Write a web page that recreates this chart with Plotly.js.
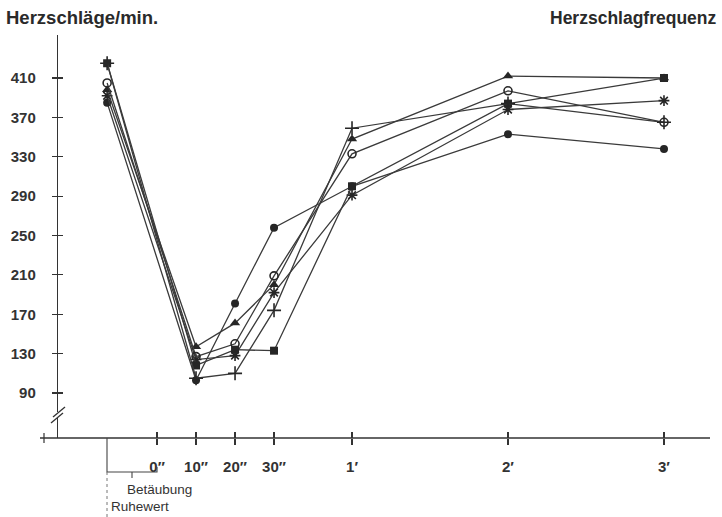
<!DOCTYPE html>
<html>
<head>
<meta charset="utf-8">
<script src="https://cdn.plot.ly/plotly-3.0.1.min.js"></script>
<style>html,body{margin:0;padding:0;background:#fff;}#chart{width:722px;height:517px;}</style>
</head>
<body>
<div id="chart"></div>
<script>
// x positions of the time points (0″ = 0, 10″ = 1 unit, 1′ = 5, 2′ = 9, 3′ = 13; Ruhewert before 0″)
const timeX = [-1.28, 1, 2, 3, 5, 9, 13];
const tickVals = [0, 1, 2, 3, 5, 9, 13];
const tickLabels = ['0″', '10″', '20″', '30″', '1′', '2′', '3′'];
const yTicks = [90, 130, 170, 210, 250, 290, 330, 370, 410];

// heart beats per minute, series by marker symbol
const plusSeries     = [425, 105, 110, 174, 359, 384, 365];
const squareSeries   = [425, 118, 134, 133, 300, 384, 410];
const openCircle     = [405, 127, 140, 209, 333, 397, 365];
const triangleSeries = [398, 137, 161, 200, 348, 412, 410];
const asteriskSeries = [392, 124, 128, 192, 291, 378, 387];
const filledCircle   = [385, 103, 181, 258, 300, 353, 338];

const ink = '#262626';
function series(y, symbol, size) {
  const open = symbol.indexOf('open') >= 0;
  return {
    x: timeX, y: y, type: 'scatter', mode: 'lines+markers',
    line: {color: '#3a3a3a', width: 1.3},
    marker: {symbol: symbol, size: size, color: ink, line: {color: ink, width: open ? 1.6 : 0}},
    showlegend: false, hoverinfo: 'skip'
  };
}
const traces = [
  series(filledCircle, 'circle', 8),
  series(asteriskSeries, 'asterisk-open', 9),
  series(triangleSeries, 'triangle-up', 9),
  series(openCircle, 'circle-open', 8),
  series(squareSeries, 'square', 8),
  series(plusSeries, 'cross-thin-open', 10),
  // invisible helper for overlay axes (crossing tick marks)
  {x: [0], y: [100], xaxis: 'x2', yaxis: 'y2', mode: 'markers', marker: {opacity: 0}, showlegend: false, hoverinfo: 'skip'}
];

const xr = [-2.54, 14.18], yr = [44.3, 453.7];
const tf = {family: 'Liberation Sans, Arial, sans-serif', size: 15, color: '#333', weight: 'bold'};
const P = 652, H = 403;
const layout = {
  width: 722, height: 517,
  margin: {l: 58, r: 12, t: 35, b: 79},
  paper_bgcolor: '#fff', plot_bgcolor: '#fff',
  xaxis: {range: xr, tickvals: tickVals, ticktext: tickLabels, ticks: 'outside', ticklen: 6,
          tickcolor: '#333', tickwidth: 1.2, showgrid: false, zeroline: false,
          showline: false, tickfont: tf, ticklabelstandoff: 9},
  yaxis: {range: yr, tickvals: yTicks, ticks: 'outside', ticklen: 5, tickcolor: '#333', tickwidth: 1.2,
          showgrid: false, zeroline: false, showline: true, linecolor: '#333', linewidth: 1.2,
          tickfont: tf, ticklabelstandoff: 13},
  xaxis2: {range: xr, overlaying: 'x', tickvals: tickVals, ticks: 'inside', ticklen: 6, tickcolor: '#333',
           tickwidth: 1.2, showticklabels: false, showgrid: false, zeroline: false, showline: false},
  yaxis2: {range: yr, overlaying: 'y', tickvals: yTicks, ticks: 'inside', ticklen: 5, tickcolor: '#333',
           tickwidth: 1.2, showticklabels: false, showgrid: false, zeroline: false, showline: false},
  shapes: [
    // x axis line extending left of the y axis
    {type: 'line', xref: 'paper', yref: 'paper', x0: -18/P, x1: 1, y0: 0, y1: 0, line: {color: '#333', width: 1.3}},
    {type: 'line', xref: 'paper', yref: 'paper', x0: -14/P, x1: -14/P, y0: -5/H, y1: 5/H, line: {color: '#333', width: 1.2}},
    // axis break
    {type: 'rect', xref: 'paper', yref: 'paper', x0: -3/P, x1: 3/P, y0: 20/H, y1: 26/H, fillcolor: '#fff', line: {width: 0}, layer: 'above'},
    {type: 'line', xref: 'paper', yref: 'paper', x0: -7/P, x1: 5/P, y0: 15/H, y1: 25/H, line: {color: '#333', width: 1.3}, layer: 'above'},
    {type: 'line', xref: 'paper', yref: 'paper', x0: -5/P, x1: 7/P, y0: 21/H, y1: 31/H, line: {color: '#333', width: 1.3}, layer: 'above'},
    // Betäubung bracket
    {type: 'path', xref: 'paper', yref: 'paper',
     path: 'M ' + (49/P) + ' 0 L ' + (49/P) + ' ' + (-34/H) + ' L ' + (99/P) + ' ' + (-34/H) + ' L ' + (99/P) + ' ' + (-29/H),
     line: {color: '#444', width: 1.1}},
    {type: 'line', xref: 'paper', yref: 'paper', x0: 74/P, x1: 74/P, y0: -34/H, y1: -40/H, line: {color: '#444', width: 1.1}},
    // Ruhewert dotted line
    {type: 'line', xref: 'paper', yref: 'paper', x0: 49/P, x1: 49/P, y0: -34/H, y1: -80/H, line: {color: '#777', width: 1, dash: 'dot'}}
  ],
  annotations: [
    {text: 'Herzschläge/min.', xref: 'paper', yref: 'paper', x: -54/P, y: 1 + 17/H, xanchor: 'left', yanchor: 'middle',
     showarrow: false, font: {family: 'Liberation Sans, Arial, sans-serif', size: 18.5, color: '#2a2a2a', weight: 'bold'}},
    {text: 'Herzschlagfrequenz', xref: 'paper', yref: 'paper', x: 1 + 9/P, y: 1 + 17/H, xanchor: 'right', yanchor: 'middle',
     showarrow: false, font: {family: 'Liberation Sans, Arial, sans-serif', size: 17.5, color: '#2a2a2a', weight: 'bold'}},
    {text: 'Betäubung', xref: 'paper', yref: 'paper', x: 67/P, y: -51/H, xanchor: 'left', yanchor: 'middle',
     showarrow: false, font: {family: 'Liberation Sans, Arial, sans-serif', size: 13.5, color: '#333'}},
    {text: 'Ruhewert', xref: 'paper', yref: 'paper', x: 51/P, y: -68/H, xanchor: 'left', yanchor: 'middle',
     showarrow: false, font: {family: 'Liberation Sans, Arial, sans-serif', size: 13.5, color: '#333'}}
  ]
};
Plotly.newPlot('chart', traces, layout, {staticPlot: true, displayModeBar: false});
</script>
</body>
</html>
